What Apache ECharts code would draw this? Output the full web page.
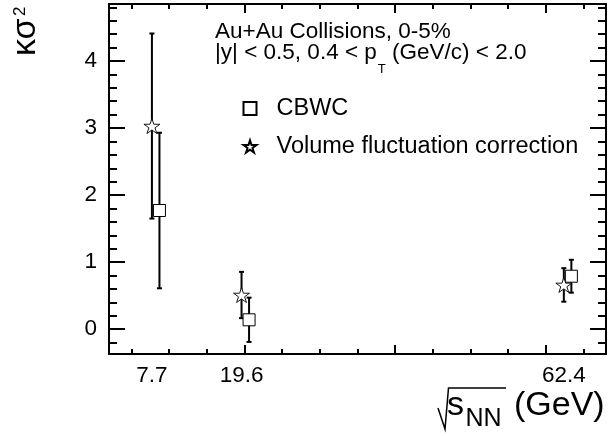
<!DOCTYPE html>
<html><head><meta charset="utf-8">
<script src="https://cdn.jsdelivr.net/npm/echarts@6/dist/echarts.min.js"></script>
<style>html,body{margin:0;padding:0;background:#fff}#c{width:610px;height:436px}</style>
</head><body><div id="c"></div>
<script>
// ---- data ----
const energies = [7.7, 19.6, 62.4];
const xTickLabels = ['7.7', '19.6', '62.4'];
const cbwcX = [8.7, 20.6, 63.4];
const cbwcY = [1.77, 0.14, 0.79];
const cbwcErr = [1.16, 0.33, 0.245];
const vfcX = [7.7, 19.6, 62.4];
const vfcY = [3.03, 0.51, 0.66];
const vfcErr = [1.38, 0.345, 0.25];
const xMajor = [20, 40, 60];
const xMinor = [5, 10, 15, 25, 30, 35, 45, 50, 55, 65];
const yMajor = [0, 1, 2, 3, 4];
const yMinor = [-0.2, 0.2, 0.4, 0.6, 0.8, 1.2, 1.4, 1.6, 1.8, 2.2, 2.4, 2.6, 2.8, 3.2, 3.4, 3.6, 3.8, 4.2, 4.4, 4.6, 4.8];
const seriesNames = ['CBWC', 'Volume fluctuation correction'];

const FF = '"Liberation Sans", Arial, Helvetica, sans-serif';
const STAR = 'path://M50,0 L61.23,34.55 L97.55,34.55 L68.16,55.9 L79.39,90.45 L50,69.1 L20.61,90.45 L31.84,55.9 L2.45,34.55 L38.77,34.55 Z';

const chart = echarts.init(document.getElementById('c'), null, {renderer: 'canvas'});

function tw(text, font) {
  const c = document.createElement('canvas').getContext('2d');
  c.font = font; return c.measureText(text).width;
}

function mkX(pos, ticks, len, showLine, labels) {
  return {
    type: 'value', min: 2, max: 68, position: pos, gridIndex: 0,
    axisLine: {show: showLine, onZero: false, lineStyle: {color: '#000', width: 2}},
    axisTick: {show: true, inside: true, length: len, customValues: ticks, lineStyle: {color: '#000', width: 2}},
    axisLabel: labels ? {show: true, customValues: labels, margin: 10, fontSize: 22.5, color: '#000', fontFamily: FF,
      formatter: v => xTickLabels[energies.indexOf(v)] ?? ''} : {show: false},
    splitLine: {show: false}
  };
}
function mkY(pos, ticks, len, showLine, labels) {
  return {
    type: 'value', min: -0.37, max: 4.85, position: pos, gridIndex: 0,
    axisLine: {show: showLine, onZero: false, lineStyle: {color: '#000', width: 2}},
    axisTick: {show: true, inside: true, length: len, customValues: ticks, lineStyle: {color: '#000', width: 2}},
    axisLabel: labels ? {show: true, customValues: labels, margin: 12, fontSize: 22.5, color: '#000', fontFamily: FF} : {show: false},
    splitLine: {show: false}
  };
}

function renderErr(params, api) {
  const x = api.value(0), lo = api.value(1), hi = api.value(2);
  const a = api.coord([x, lo]), b = api.coord([x, hi]);
  const cw = 2.5;
  const st = {stroke: '#000', lineWidth: 2};
  return {type: 'group', children: [
    {type: 'line', shape: {x1: a[0], y1: a[1], x2: b[0], y2: b[1]}, style: st},
    {type: 'line', shape: {x1: a[0] - cw, y1: a[1], x2: a[0] + cw, y2: a[1]}, style: st},
    {type: 'line', shape: {x1: b[0] - cw, y1: b[1], x2: b[0] + cw, y2: b[1]}, style: st}
  ]};
}

const cbwcErrData = cbwcX.map((x, i) => [x, cbwcY[i] - cbwcErr[i], cbwcY[i] + cbwcErr[i]]);
const vfcErrData = vfcX.map((x, i) => [x, vfcY[i] - vfcErr[i], vfcY[i] + vfcErr[i]]);

function txt(text, x, y, size, extra) {
  return Object.assign({type: 'text', x: x, y: y, silent: true,
    style: {text: text, font: size + 'px ' + FF, fill: '#000', align: 'left', verticalAlign: 'middle',
      textAlign: 'left', textVerticalAlign: 'middle'}}, extra || {});
}

const hdrSize = 22.5;
const hdrFont = hdrSize + 'px ' + FF;
const part1 = '|y| < 0.5, 0.4 < p';
const part1W = tw(part1, hdrFont);
const subT = 'T';
const subW = tw(subT, '13px ' + FF);
const hx = 215;

const ytSize = 34;

const option = {
  animation: false,
  backgroundColor: '#fff',
  grid: {left: 109, right: 4, top: 4, bottom: 82, containLabel: false, outerBoundsMode: 'none'},
  xAxis: [
    mkX('bottom', xMajor, 9, true, energies),
    mkX('bottom', xMinor, 5, false, null),
    mkX('top', xMajor, 9, true, null),
    mkX('top', xMinor, 5, false, null)
  ],
  yAxis: [
    mkY('left', yMajor, 16, true, yMajor),
    mkY('left', yMinor, 8, false, null),
    mkY('right', yMajor, 16, true, null),
    mkY('right', yMinor, 8, false, null)
  ],
  legend: {
    data: seriesNames, orient: 'vertical', left: 237.5, top: 91.5, itemGap: 14,
    itemWidth: 13, itemHeight: 13, selectedMode: false,
    textStyle: {fontSize: 23.5, lineHeight: 23, color: '#000', fontFamily: FF, padding: [0, 0, 0, 15]}
  },
  series: [
    {type: 'custom', name: 'errCBWC', renderItem: renderErr, data: cbwcErrData, encode: {x: 0, y: [1, 2]}, z: 2, silent: true},
    {type: 'custom', name: 'errVFC', renderItem: renderErr, data: vfcErrData, encode: {x: 0, y: [1, 2]}, z: 2, silent: true},
    {type: 'scatter', name: seriesNames[0], symbol: 'rect', symbolSize: 12,
      itemStyle: {color: '#fff', borderColor: '#000', borderWidth: 1, opacity: 1},
      data: cbwcX.map((x, i) => [x, cbwcY[i]]), z: 5},
    {type: 'scatter', name: seriesNames[1], symbol: STAR, symbolSize: [16, 15],
      itemStyle: {color: '#fff', borderColor: '#000', borderWidth: 0.9, opacity: 1},
      data: vfcX.map((x, i) => [x, vfcY[i]]), z: 6}
  ],
  graphic: [
    txt('Au+Au Collisions, 0-5%', hx, 32, hdrSize),
    txt(part1, hx, 52.7, hdrSize),
    txt(subT, hx + part1W + 1, 69.5, 13),
    txt(' (GeV/c) < 2.0', hx + part1W + 1 + subW, 52.7, hdrSize),
    // x-axis title
    {type: 'polyline', silent: true, shape: {points: [[438, 408], [445, 429], [448.5, 388], [506, 388]]},
      style: {stroke: '#000', lineWidth: 1.5, fill: null}},
    txt('s', 447, 405.2, 34),
    txt('NN', 465.5, 419.3, 25),
    txt('(GeV)', 514, 405.2, 34),
    // y-axis title
    {type: 'group', x: 37, y: 56, rotation: Math.PI / 2, silent: true, children: [
      txt('κσ', 0, -11.8, ytSize),
      txt('2', 40, -17, 17)
    ]}
  ]
};
chart.setOption(option);
</script>
</body></html>
